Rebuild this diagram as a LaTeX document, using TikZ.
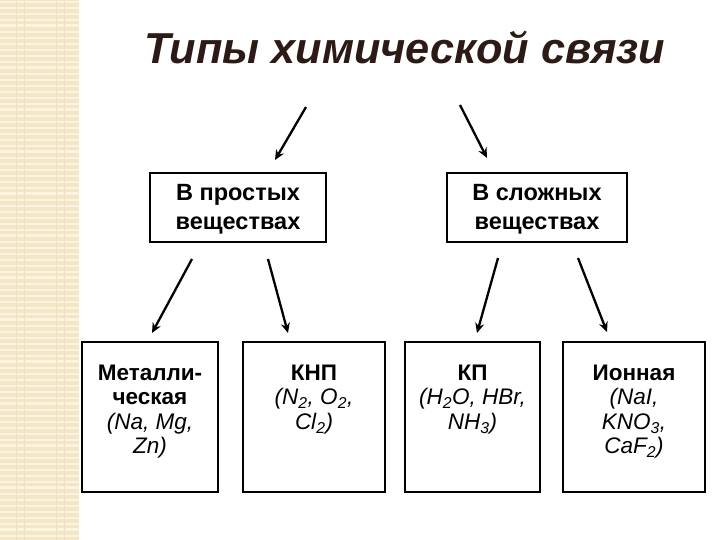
\documentclass[tikz,border=0pt]{standalone}
\usepackage{fontspec}
\setmainfont{Liberation Sans}
\usetikzlibrary{arrows.meta,calc}
\definecolor{stripe}{RGB}{243,231,200}
\definecolor{stripelt}{RGB}{250,244,224}
\definecolor{stripedk}{RGB}{239,225,190}
\definecolor{titlec}{RGB}{44,26,22}
\begin{document}
\begin{tikzpicture}[x=1pt,y=-1pt,
 box/.style={draw=black, line width=2pt, inner sep=0pt},
 uptext/.style={align=center, inner sep=0pt, font=\bfseries\fontsize{23.5}{29}\selectfont},
 arr/.style={line width=2.3pt, -{Stealth[length=10pt,width=9pt]}},
 celltext/.style={anchor=north, align=center, inner sep=0pt, font=\fontsize{22.5}{24.3}\selectfont},
]
\useasboundingbox (0,0) rectangle (720,540);
% decorative stripe
\fill[stripe] (0,0) rectangle (79,540);
\foreach \y in {2,8,...,540} \draw[stripelt, line width=1.3pt] (0,\y) -- (79,\y);
\foreach \y in {25,67,...,540} \draw[stripelt, line width=2.5pt] (0,\y) -- (79,\y);
\foreach \x in {16,24,56,64} \draw[stripedk, line width=0.8pt] (\x,0) -- (\x,540);

% title
\node[font=\bfseries\itshape\fontsize{43.3}{50}\selectfont, text=titlec, anchor=base, inner sep=0pt] (title) at (405,64) {Типы химической связи};

% second level
\node[box, minimum width=176pt, minimum height=69pt] (simple) at (238,207.5) {};
\node[box, minimum width=180pt, minimum height=69pt] (complex) at (537,207.5) {};
\node[uptext] (simplet) at ($(simple.center)+(0,2)$) {В простых\\веществах};
\node[uptext] (complext) at ($(complex.center)+(0,2)$) {В сложных\\веществах};

% third level boxes
\node[box, minimum width=136pt, minimum height=150pt] (b1) at (150,417) {};
\node[box, minimum width=142pt, minimum height=150pt] (b2) at (314,417) {};
\node[box, minimum width=135pt, minimum height=150pt] (b3) at (472.5,417) {};
\node[box, minimum width=142pt, minimum height=150pt] (b4) at (634,417) {};

\node[celltext] (t1) at ($(b1.north)+(0,24)$) {\textbf{Металли-}\\\textbf{ческая}\\\textit{(Na, Mg,}\\\textit{Zn)}};
\node[celltext] (t2) at ($(b2.north)+(0,24)$) {\textbf{КНП}\\\textit{(N\textsubscript{2}, O\textsubscript{2},}\\\textit{Cl\textsubscript{2})}};
\node[celltext] (t3) at ($(b3.north)+(0,24)$) {\textbf{КП}\\\textit{(H\textsubscript{2}O, HBr,}\\\textit{NH\textsubscript{3})}};
\node[celltext] (t4) at ($(b4.north)+(0,24)$) {\textbf{Ионная}\\\textit{(NaI,}\\\textit{KNO\textsubscript{3},}\\\textit{CaF\textsubscript{2})}};

% arrow end points
\coordinate (a1s) at (306,107); \coordinate (a1e) at (275,160);
\coordinate (a2s) at (460,105); \coordinate (a2e) at (487,158);
\coordinate (a3s) at (192,259); \coordinate (a3e) at (152,333);
\coordinate (a4s) at (268,259); \coordinate (a4e) at (288,333);
\coordinate (a5s) at (498,258); \coordinate (a5e) at (477,333);
\coordinate (a6s) at (578,258); \coordinate (a6e) at (607,332);

\draw[arr] (a1s) -- (a1e);
\draw[arr] (a2s) -- (a2e);
\draw[arr] (a3s) -- (a3e);
\draw[arr] (a4s) -- (a4e);
\draw[arr] (a5s) -- (a5e);
\draw[arr] (a6s) -- (a6e);
\end{tikzpicture}
\end{document}
